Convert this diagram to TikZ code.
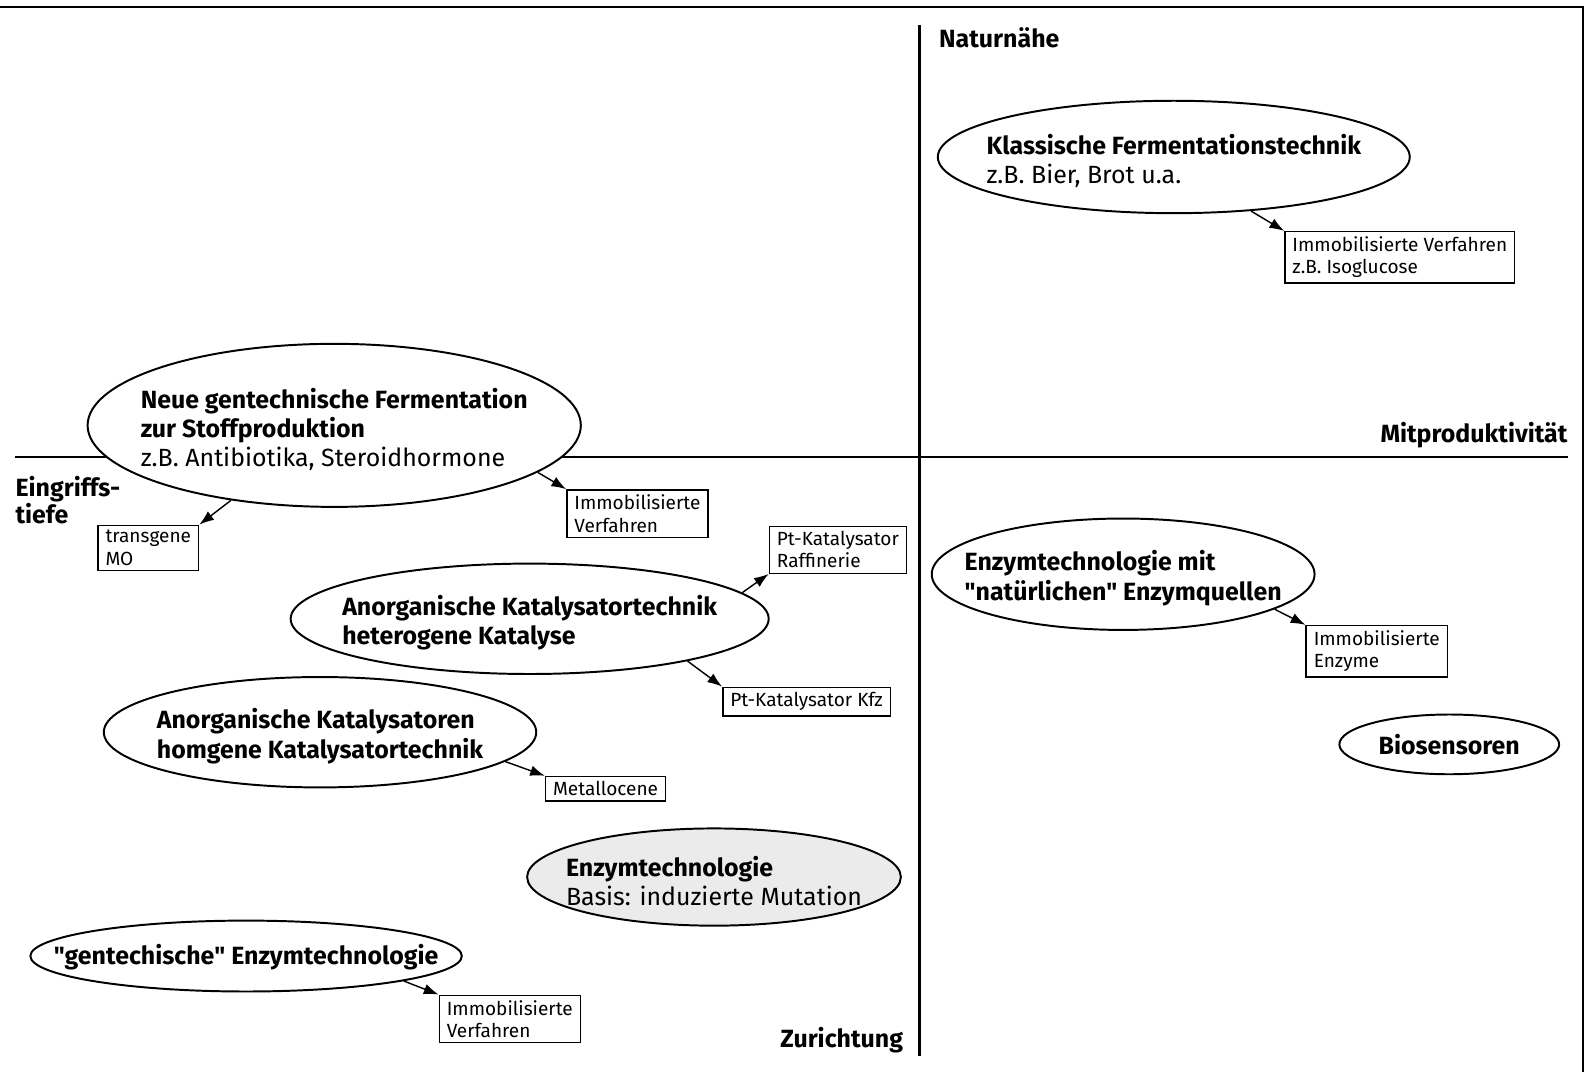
\documentclass[tikz,border=0pt]{standalone}
\usepackage{fontspec}
\setmainfont{Fira Sans}
\usetikzlibrary{shapes.geometric,arrows.meta}
\begin{document}
\begin{tikzpicture}[x=0.2mm,y=-0.2mm,
    blob/.style={draw,fill=white,ellipse,line width=1.1pt,inner sep=0pt},
    inhalt/.style={align=left,inner sep=0pt,yshift=-0.8mm,font=\fontsize{14}{16.5}\selectfont\bfseries},
    kasten/.style={draw,line width=0.8pt,anchor=north west,align=left,inner xsep=1.5mm,inner ysep=1mm,font=\fontsize{10.7}{12.5}\selectfont},
    lbl/.style={font=\fontsize{14}{15}\selectfont\bfseries,inner sep=0pt,align=left},
    arr/.style={-{Latex[length=2.9mm,width=2.1mm]},line width=0.8pt}]
\useasboundingbox (0,0) rectangle (1568,1058);
\draw[line width=1pt] (0,7) -- (1563,7) -- (1563,1058);
\draw[line width=1.4pt] (908,25) -- (908,1043);
\draw[line width=1.4pt] (15,451) -- (1548,451);

\node[lbl,anchor=west] (natur) at (927,37) {Naturnähe};
\node[lbl,anchor=base east] (mitprod) at (1548,437) {Mitproduktivität};
\node[lbl,anchor=north west] (eingriff) at (15,470) {Eingriffs-\\tiefe};
\node[lbl,anchor=base east] (zuricht) at (892,1034) {Zurichtung};

\node[blob,minimum width=93.2mm,minimum height=22.2mm,
    label={[inhalt]center:{Klassische Fermentationstechnik\\\mdseries z.B. Bier, Brot u.a.}}] (klass) at (1159,155) {};
\node[blob,minimum width=97.4mm,minimum height=32.2mm,
    label={[inhalt]center:{Neue gentechnische Fermentation\\zur Stoffproduktion\\\mdseries z.B. Antibiotika, Steroidhormone}}] (neue) at (330,420) {};
\node[blob,minimum width=94.4mm,minimum height=21.8mm,
    label={[inhalt]center:{Anorganische Katalysatortechnik\\heterogene Katalyse}}] (hetero) at (523,611) {};
\node[blob,minimum width=85.4mm,minimum height=21.8mm,
    label={[inhalt]center:{Anorganische Katalysatoren\\homgene Katalysatortechnik}}] (homo) at (316,723) {};
\node[blob,fill=black!8,minimum width=73.8mm,minimum height=19.2mm,
    label={[inhalt]center:{Enzymtechnologie\\\mdseries Basis: induzierte Mutation}}] (mutation) at (705,866) {};
\node[blob,minimum width=85.2mm,minimum height=14mm,
    label={[inhalt,yshift=0.5mm]center:{\textquotedbl gentechische\textquotedbl\ Enzymtechnologie}}] (gentech) at (243,944) {};
\node[blob,minimum width=75.6mm,minimum height=22mm,
    label={[inhalt]center:{Enzymtechnologie mit\\\textquotedbl natürlichen\textquotedbl\ Enzymquellen}}] (natuerlich) at (1109,567) {};
\node[blob,minimum width=43.4mm,minimum height=11.8mm,
    label={[inhalt,yshift=0.7mm]center:Biosensoren}] (bio) at (1431,735) {};

\node[kasten] (iso) at (1268,228) {Immobilisierte Verfahren\\z.B. Isoglucose};
\node[kasten] (mo) at (96,518) {transgene\\MO};
\node[kasten] (immneu) at (559,483) {Immobilisierte\\Verfahren};
\node[kasten] (raff) at (759,519) {Pt-Katalysator\\Raffinerie};
\node[kasten] (kfz) at (713,678) {Pt-Katalysator Kfz};
\node[kasten] (metallo) at (538,766) {Metallocene};
\node[kasten] (immgen) at (433,982) {Immobilisierte\\Verfahren};
\node[kasten] (immenz) at (1289,617) {Immobilisierte\\Enzyme};

\draw[arr] (klass.-35) -- (iso.north west);
\draw[arr] (neue.216) -- (mo.north east);
\draw[arr] (neue.-13) -- (immneu.north west);
\draw[arr] (hetero.7) -- (raff.south west);
\draw[arr] (hetero.-15) -- (kfz.north west);
\draw[arr] (homo.-9) -- (metallo.north west);
\draw[arr] (gentech.-9) -- (immgen.north west);
\draw[arr] (natuerlich.-13) -- (immenz.north west);
\end{tikzpicture}
\end{document}
